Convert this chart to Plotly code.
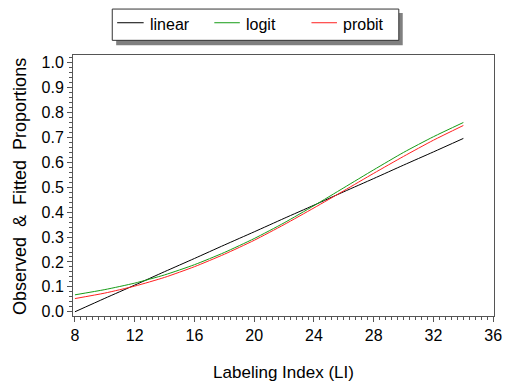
import plotly.graph_objects as go

li = [8, 10, 12, 14, 16, 18, 20, 22, 24, 26, 28, 30, 32, 34]
linear = [0.000, 0.054, 0.107, 0.161, 0.214, 0.268, 0.321, 0.375, 0.428, 0.482, 0.535, 0.589, 0.642, 0.696]
logit = [0.068, 0.089, 0.115, 0.148, 0.189, 0.238, 0.294, 0.357, 0.426, 0.498, 0.570, 0.640, 0.703, 0.760]
probit = [0.053, 0.075, 0.103, 0.138, 0.181, 0.231, 0.287, 0.350, 0.417, 0.486, 0.556, 0.624, 0.689, 0.748]

series_names = ["linear", "logit", "probit"]
x_ticks = [8, 12, 16, 20, 24, 28, 32, 36]
y_ticks = [0.0, 0.1, 0.2, 0.3, 0.4, 0.5, 0.6, 0.7, 0.8, 0.9, 1.0]

colors = ["#000000", "#169c16", "#ff2020"]
FONT = "Liberation Sans, Arial, sans-serif"

fig = go.Figure()
for name, ys, c in zip(series_names, [linear, logit, probit], colors):
    fig.add_trace(go.Scatter(x=li, y=ys, mode="lines", name=name, showlegend=False,
                             line=dict(color=c, width=1, shape="spline", smoothing=0.6)))

axis_common = dict(showline=True, linecolor="#555555", linewidth=1, mirror=True,
                   ticks="outside", ticklen=5, tickcolor="#555555", showgrid=False,
                   zeroline=False, tickfont=dict(family=FONT, size=16, color="black"))

fig.update_xaxes(range=[7.87, 36.05], tickvals=x_ticks, ticktext=[str(v) for v in x_ticks],
                 minor=dict(dtick=0.4, tick0=8, ticks="outside", ticklen=3, tickcolor="#555555"),
                 title=dict(text="Labeling Index (LI)",
                            font=dict(family=FONT, size=17, color="black"), standoff=22),
                 **axis_common)
fig.update_yaxes(range=[-0.017, 1.031], tickvals=y_ticks, ticktext=[f"{v:.1f}" for v in y_ticks],
                 minor=dict(dtick=0.02, tick0=0, ticks="outside", ticklen=3, tickcolor="#555555"),
                 **axis_common)

# geometry helpers for titles and the hand-drawn legend (pixel -> paper)
L, R, T, B = 73, 9, 55, 65
W, H = 511, 387
pw, ph = W - L - R, H - T - B
def px(xp): return (xp - L) / pw
def py(yp): return (H - B - yp) / ph

# y-axis title
fig.add_annotation(xref="paper", yref="paper", x=px(19), y=py(190),
                   xanchor="center", yanchor="middle", textangle=-90, showarrow=False,
                   text="Observed\u00a0\u00a0&\u00a0\u00a0Fitted\u00a0\u00a0Proportions",
                   font=dict(family=FONT, size=18, color="black"))

# legend shadow and box
fig.add_shape(type="rect", xref="paper", yref="paper",
              x0=px(117), x1=px(409), y0=py(45), y1=py(12),
              fillcolor="#808080", line=dict(width=0), layer="above")
fig.add_shape(type="rect", xref="paper", yref="paper",
              x0=px(113), x1=px(405), y0=py(40), y1=py(8),
              fillcolor="white", line=dict(color="#333333", width=1), layer="above")

sample_x = [(118, 145), (217, 243), (316, 342)]
for name, c, (a, b) in zip(series_names, colors, sample_x):
    fig.add_shape(type="line", xref="paper", yref="paper",
                  x0=px(a), x1=px(b), y0=py(22), y1=py(22),
                  line=dict(color=c, width=1), layer="above")
    fig.add_annotation(xref="paper", yref="paper", x=px(b + 4), y=py(24),
                       xanchor="left", yanchor="middle", text=name, showarrow=False,
                       font=dict(family=FONT, size=16, color="black"))

fig.update_layout(
    width=W, height=H,
    margin=dict(l=L, r=R, t=T, b=B),
    paper_bgcolor="white", plot_bgcolor="white",
    showlegend=False,
)

fig.write_html("out.html")
